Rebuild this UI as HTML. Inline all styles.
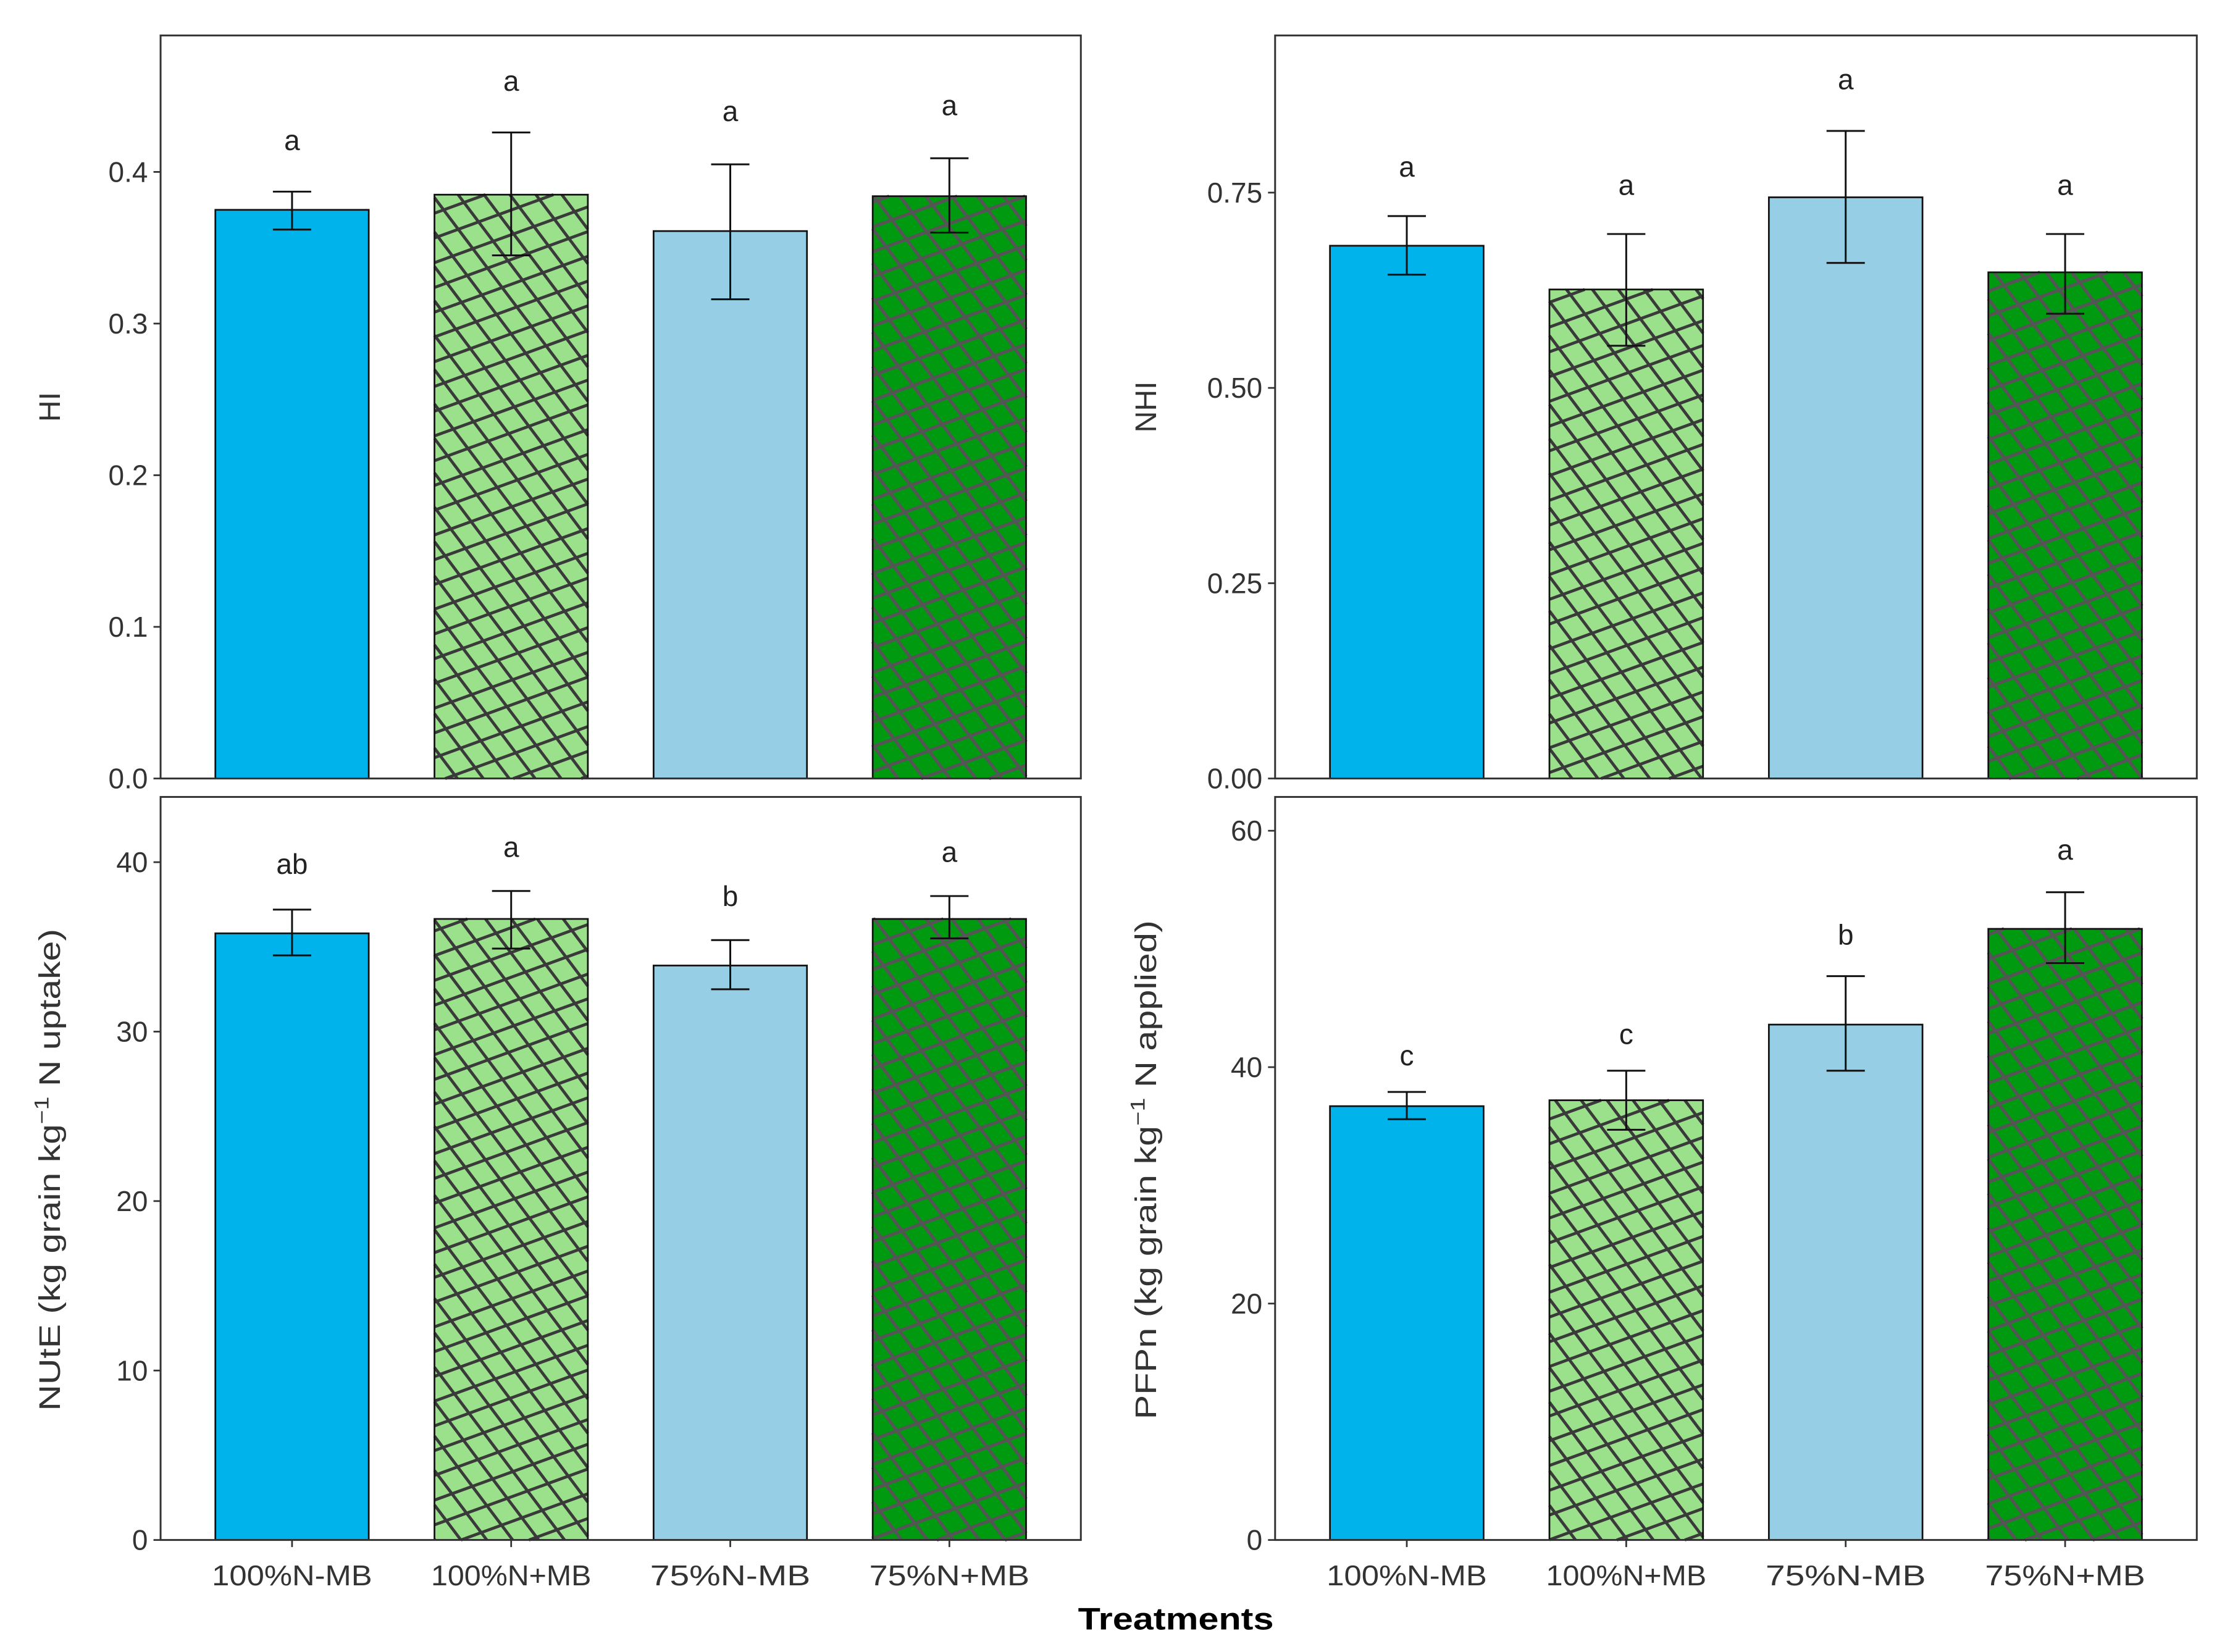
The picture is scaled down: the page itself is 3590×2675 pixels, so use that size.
<!DOCTYPE html>
<html><head><meta charset="utf-8"><style>
html,body{margin:0;padding:0;background:#fff;width:3590px;height:2675px;overflow:hidden;}
svg{display:block;}
text{font-family:"Liberation Sans",sans-serif;}
</style></head><body>
<svg id="chart" width="3590" height="2675" viewBox="0 0 1563 1165" xmlns="http://www.w3.org/2000/svg" overflow="hidden">
<g id="root"></g>
</svg>
<script>
const categories = ["100%N-MB","100%N+MB","75%N-MB","75%N+MB"];
const hiValues = [0.375,0.385,0.361,0.384];
const hiLow = [0.362,0.345,0.316,0.360];
const hiHigh = [0.387,0.426,0.405,0.409];
const hiLetters = ["a","a","a","a"];
const hiLetterPos = [0.421,0.46,0.44,0.444];
const hiTicks = [0,0.1,0.2,0.3,0.4];
const hiTickLabels = ["0.0","0.1","0.2","0.3","0.4"];
const nhiValues = [0.682,0.626,0.744,0.648];
const nhiLow = [0.645,0.554,0.660,0.595];
const nhiHigh = [0.720,0.697,0.829,0.697];
const nhiLetters = ["a","a","a","a"];
const nhiLetterPos = [0.783,0.76,0.895,0.76];
const nhiTicks = [0,0.25,0.5,0.75];
const nhiTickLabels = ["0.00","0.25","0.50","0.75"];
const nuteValues = [35.8,36.65,33.9,36.65];
const nuteLow = [34.5,34.9,32.5,35.5];
const nuteHigh = [37.2,38.3,35.4,38.0];
const nuteLetters = ["ab","a","b","a"];
const nuteLetterPos = [39.9,40.9,38.0,40.6];
const nuteTicks = [0,10,20,30,40];
const nuteTickLabels = ["0","10","20","30","40"];
const pfpValues = [36.7,37.2,43.6,51.7];
const pfpLow = [35.6,34.7,39.7,48.8];
const pfpHigh = [37.9,39.7,47.7,54.8];
const pfpLetters = ["c","c","b","a"];
const pfpLetterPos = [41.0,42.8,51.2,58.4];
const pfpTicks = [0,20,40,60];
const pfpTickLabels = ["0","20","40","60"];

const NS="http://www.w3.org/2000/svg";
const root=document.getElementById('root');
const fills=["#00B4EB","#9BE18C","#96CFE5","#009A10"];
function mk(tag,attrs,parent){const e=document.createElementNS(NS,tag);for(const k in attrs)e.setAttribute(k,attrs[k]);(parent||root).appendChild(e);return e;}
function clipSeg(px,py,dx,dy,x0,y0,x1,y1){
  let t0=-1e9,t1=1e9;
  const ps=[-dx,dx,-dy,dy], qs=[px-x0,x1-px,py-y0,y1-py];
  for(let i=0;i<4;i++){
    if(Math.abs(ps[i])<1e-12){ if(qs[i]<0) return null; continue; }
    const r=qs[i]/ps[i];
    if(ps[i]<0){ if(r>t0) t0=r; } else { if(r<t1) t1=r; }
  }
  if(t0>=t1) return null;
  return [px+dx*t0,py+dy*t0,px+dx*t1,py+dy*t1];
}
function hatch(g,x0,y0,w,h,color,sw){
  const hg=mk('g',{stroke:color,'stroke-width':sw,fill:'none'},g);
  const fams=[[53,14.6],[-20,16.4]];
  const cx=x0+w/2, cy=y0+h/2, R=Math.hypot(w,h)/2+20;
  fams.forEach(([ang,sp])=>{
    const a=ang*Math.PI/180, dx=Math.cos(a), dy=Math.sin(a), nx=-dy, ny=dx;
    const off=(cx*nx+cy*ny)%sp;
    for(let k=-Math.ceil(R/sp)-1;k<=Math.ceil(R/sp)+1;k++){
      const o=k*sp-off;
      const s=clipSeg(cx+nx*o,cy+ny*o,dx,dy,x0,y0,x0+w,y0+h);
      if(s) mk('line',{x1:s[0],y1:s[1],x2:s[2],y2:s[3]},hg);
    }
  });
}

const panels=[
 {id:"hi",x0:113,x1:762,y0:25,y1:549,max:0.49,vals:hiValues,lo:hiLow,hi:hiHigh,let:hiLetters,lp:hiLetterPos,ticks:hiTicks,tl:hiTickLabels,xt:false},
 {id:"nhi",x0:899,x1:1549,y0:25,y1:549,max:0.9512,vals:nhiValues,lo:nhiLow,hi:nhiHigh,let:nhiLetters,lp:nhiLetterPos,ticks:nhiTicks,tl:nhiTickLabels,xt:false},
 {id:"nute",x0:113,x1:762,y0:562,y1:1086,max:43.85,vals:nuteValues,lo:nuteLow,hi:nuteHigh,let:nuteLetters,lp:nuteLetterPos,ticks:nuteTicks,tl:nuteTickLabels,xt:true},
 {id:"pfpn",x0:899,x1:1549,y0:562,y1:1086,max:62.86,vals:pfpValues,lo:pfpLow,hi:pfpHigh,let:pfpLetters,lp:pfpLetterPos,ticks:pfpTicks,tl:pfpTickLabels,xt:true}
];

panels.forEach(p=>{
  const g=mk('g',{});
  
  
  const y=v=>p.y1-(v/p.max)*(p.y1-p.y0);
  const band=(p.x1-p.x0)/4.2;
  const x=i=>p.x0+band*(0.6+i);
  const bw=band*0.7;
  p.vals.forEach((v,i)=>{
    const attrs={x:x(i)-bw/2,y:y(v),width:bw,height:p.y1-y(v)};
    const b=mk('rect',Object.assign({fill:fills[i]},attrs),g);
    
    
    if(i===1) hatch(g,attrs.x,attrs.y,attrs.width,attrs.height,"#3a3a3a",2.1);
    if(i===3) hatch(g,attrs.x,attrs.y,attrs.width,attrs.height,"#555",2.3);
    mk('rect',Object.assign({fill:"none",stroke:"#111",'stroke-width':1.2},attrs),g);
    const eg=mk('g',{stroke:"#111",'stroke-width':1.3},g);
    
    
    mk('line',{x1:x(i),x2:x(i),y1:y(p.lo[i]),y2:y(p.hi[i])},eg);
    mk('line',{x1:x(i)-13.5,x2:x(i)+13.5,y1:y(p.lo[i]),y2:y(p.lo[i])},eg);
    mk('line',{x1:x(i)-13.5,x2:x(i)+13.5,y1:y(p.hi[i]),y2:y(p.hi[i])},eg);
    const t=mk('text',{x:x(i),y:y(p.lp[i])+7,'text-anchor':"middle",'font-size':20,fill:"#222"},g);
    t.textContent=p.let[i];
    
    
    if(p.xt){
      mk('line',{x1:x(i),x2:x(i),y1:p.y1,y2:p.y1+5,stroke:"#333",'stroke-width':1.2},g);
      const xl=mk('text',{x:x(i),y:p.y1+32,'text-anchor':"middle",'font-size':20,fill:"#333",textLength:113,lengthAdjust:"spacingAndGlyphs"},g);
      xl.textContent=categories[i];
      
      
    }
  });
  const frame=mk('rect',{x:p.x0,y:p.y0,width:p.x1-p.x0,height:p.y1-p.y0,fill:"none",stroke:"#333",'stroke-width':1.3},g);
  
  
  p.ticks.forEach((tv,k)=>{
    mk('line',{x1:p.x0-5,x2:p.x0,y1:y(tv),y2:y(tv),stroke:"#333",'stroke-width':1.2},g);
    const tl=mk('text',{x:p.x0-9,y:y(tv)+7,'text-anchor':"end",'font-size':20,fill:"#333"},g);
    tl.textContent=p.tl[k];
    
    
  });
});

function ytitle(cx,cy,main,rest,len,name){
  const t=mk('text',{transform:`translate(${cx},${cy}) rotate(-90)`,'text-anchor':"middle",'font-size':21,fill:"#333"});
  if(len){t.setAttribute('textLength',len);t.setAttribute('lengthAdjust','spacingAndGlyphs');}
  
  
  if(rest){
    t.appendChild(document.createTextNode(main+" (kg grain kg"));
    const s=document.createElementNS(NS,'tspan');s.setAttribute('dy',-8);s.setAttribute('font-size',14);s.textContent="\u22121";t.appendChild(s);
    const s2=document.createElementNS(NS,'tspan');s2.setAttribute('dy',8);s2.textContent=" "+rest+")";t.appendChild(s2);
  } else t.textContent=main;
}
ytitle(42,287,"HI",null,null,"hi-y-axis-title");
ytitle(815,287,"NHI",null,null,"nhi-y-axis-title");
ytitle(42,825,"NUtE","N uptake",340,"nute-y-axis-title");
ytitle(815,825,"PFPn","N applied",352,"pfpn-y-axis-title");
const xt=mk('text',{x:829,y:1149,'text-anchor':"middle",'font-size':22,'font-weight':"bold",fill:"#000",textLength:138,lengthAdjust:"spacingAndGlyphs"});
xt.textContent="Treatments";


</script>
</body></html>
